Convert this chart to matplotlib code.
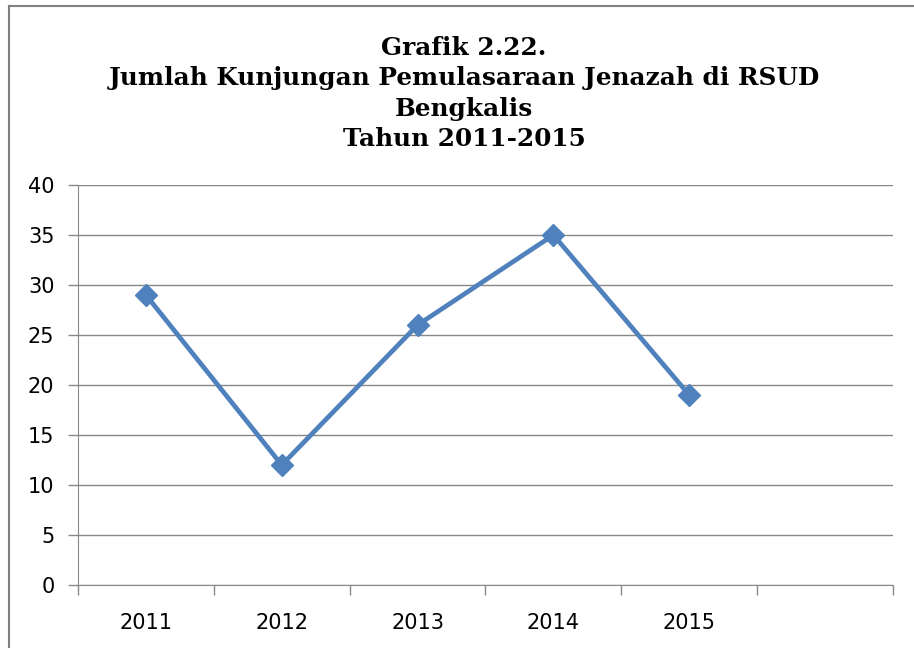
import matplotlib.pyplot as plt
from matplotlib.lines import Line2D

tahun = ['2011', '2012', '2013', '2014', '2015']
kunjungan = [29, 12, 26, 35, 19]
yticks = [0, 5, 10, 15, 20, 25, 30, 35, 40]

W, H = 914, 648
fig = plt.figure(figsize=(W / 100, H / 100), dpi=100)
ax = fig.add_axes([78 / W, 1 - 585 / H, (893 - 78) / W, (585 - 185) / H])

# bingkai luar (kiri dan atas)
fig.add_artist(Line2D([9 / W, 9 / W], [0, 1 - 6 / H], transform=fig.transFigure, color='#808080', lw=1.5))
fig.add_artist(Line2D([9 / W, 1], [1 - 6 / H, 1 - 6 / H], transform=fig.transFigure, color='#808080', lw=1.5))

x = list(range(len(tahun)))
ax.plot(x, kunjungan, color='#4F81BD', lw=3.4, marker='D', markersize=11,
        markerfacecolor='#4F81BD', markeredgecolor='#4F81BD', zorder=3)

ax.set_xlim(-0.5, 5.5)
ax.set_ylim(0, 40)
ax.set_yticks(yticks)
ax.set_yticklabels([str(v) for v in yticks])
ax.yaxis.grid(True, color='#888888', lw=1)
ax.set_axisbelow(True)

ax.set_xticks([i - 0.5 for i in range(7)])
ax.set_xticklabels([])
ax.set_xticks(x, minor=True)
ax.set_xticklabels(tahun, minor=True)
ax.tick_params(axis='x', which='minor', length=0, pad=20, labelsize=15)
ax.tick_params(axis='x', which='major', length=7, color='#888888', width=1)
ax.tick_params(axis='y', length=7, color='#888888', width=1, labelsize=15, pad=10)

for s in ['top', 'right']:
    ax.spines[s].set_visible(False)
for s in ['left', 'bottom']:
    ax.spines[s].set_color('#888888')

judul = ('Grafik 2.22.\nJumlah Kunjungan Pemulasaraan Jenazah di RSUD\n'
         'Bengkalis\nTahun 2011-2015')
fig.text(464 / W, 1 - 36 / H, judul, ha='center', va='top',
         fontsize=17.8, fontweight='bold', family='DejaVu Serif', linespacing=1.33)

fig.savefig('out.png', dpi=100)
